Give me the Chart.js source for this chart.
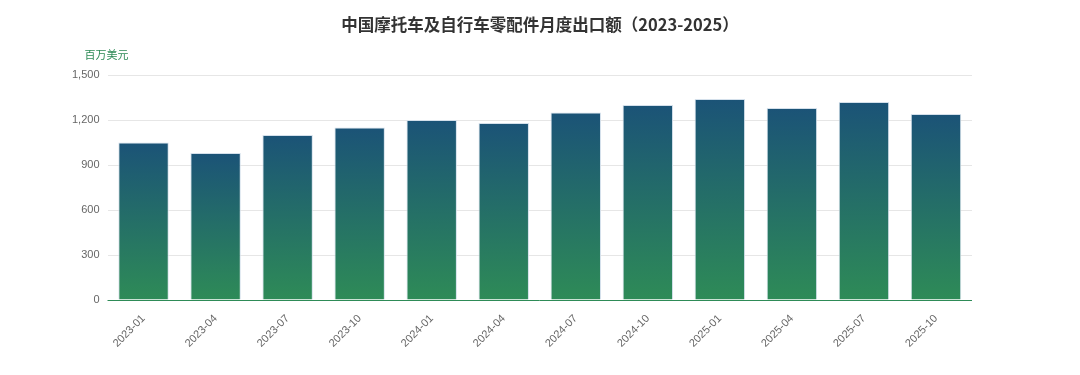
<!DOCTYPE html>
<html>
<head>
<meta charset="utf-8">
<script src="https://cdn.jsdelivr.net/npm/chart.js@4/dist/chart.umd.min.js"></script>
<style>
    html, body { margin: 0; padding: 0; background: #fff; }
    #wrap { width: 1080px; height: 375px; }
</style>
</head>
<body>
<div id="wrap"><canvas id="chart" width="1080" height="375"></canvas></div>
<script>
// 月份与出口额（百万美元）
const months = ['2023-01', '2023-04', '2023-07', '2023-10', '2024-01', '2024-04',
    '2024-07', '2024-10', '2025-01', '2025-04', '2025-07', '2025-10'];
const exportValues = [1050, 980, 1100, 1150, 1200, 1180, 1250, 1300, 1340, 1280, 1320, 1240];
const yTicks = [0, 300, 600, 900, 1200, 1500];

const titleText = '中国摩托车及自行车零配件月度出口额（2023-2025）';
const cjk = '"Noto Sans CJK SC", "Liberation Sans", sans-serif';
const latin = '"Liberation Sans", "Noto Sans CJK SC", sans-serif';

// 标题、单位标签、绿色横轴线
const extras = {
    id: 'extras',
    afterDraw(chart) {
        const ctx = chart.ctx;
        const area = chart.chartArea;
        ctx.save();
        ctx.strokeStyle = '#2e8b57';
        ctx.lineWidth = 1;
        ctx.beginPath();
        ctx.moveTo(area.left, Math.round(area.bottom) + 0.5);
        ctx.lineTo(area.right, Math.round(area.bottom) + 0.5);
        ctx.stroke();

        ctx.font = 'bold 16.5px ' + cjk;
        ctx.fillStyle = '#333';
        ctx.textAlign = 'center';
        ctx.textBaseline = 'middle';
        ctx.fillText(titleText, chart.width / 2, 25);

        ctx.font = '11px ' + cjk;
        ctx.fillStyle = '#2e8b57';
        ctx.textAlign = 'left';
        ctx.fillText('百万美元', area.left - 23, area.top - 20);
        ctx.restore();
    }
};

// 每根柱子从顶部深蓝渐变到底部绿色
function barGradient(context) {
    const chart = context.chart;
    const area = chart.chartArea;
    if (!area || !chart.scales.y || context.parsed == null) return '#2e8b57';
    const top = chart.scales.y.getPixelForValue(context.parsed.y);
    const g = chart.ctx.createLinearGradient(0, top, 0, area.bottom);
    g.addColorStop(0, '#1b5377');
    g.addColorStop(1, '#2e8b57');
    return g;
}

new Chart(document.getElementById('chart').getContext('2d'), {
    type: 'bar',
    data: {
        labels: months,
        datasets: [{
            data: exportValues,
            backgroundColor: barGradient,
            borderColor: 'rgba(210,222,234,0.95)',
            borderWidth: 1,
            borderSkipped: 'bottom',
            categoryPercentage: 0.7,
            barPercentage: 1
        }]
    },
    options: {
        responsive: false,
        animation: false,
        layout: { padding: { top: 75, left: 64, right: 108, bottom: 21 } },
        plugins: {
            legend: { display: false },
            tooltip: { enabled: false },
            title: { display: false }
        },
        scales: {
            x: {
                grid: { display: false },
                border: { display: false },
                ticks: {
                    color: '#666',
                    font: { family: latin, size: 11 },
                    maxRotation: 45,
                    minRotation: 45,
                    padding: 4
                }
            },
            y: {
                min: 0,
                max: 1500,
                afterBuildTicks(axis) {
                    axis.ticks = yTicks.map(v => ({ value: v }));
                },
                grid: {
                    color: ctx => (ctx.tick && ctx.tick.value === 0) ? 'rgba(0,0,0,0)' : '#e6e6e6',
                    drawTicks: false
                },
                border: { display: false },
                ticks: {
                    color: '#666',
                    font: { family: latin, size: 11 },
                    padding: 8,
                    callback: v => v.toLocaleString('en-US')
                }
            }
        }
    },
    plugins: [extras]
});
</script>
</body>
</html>
